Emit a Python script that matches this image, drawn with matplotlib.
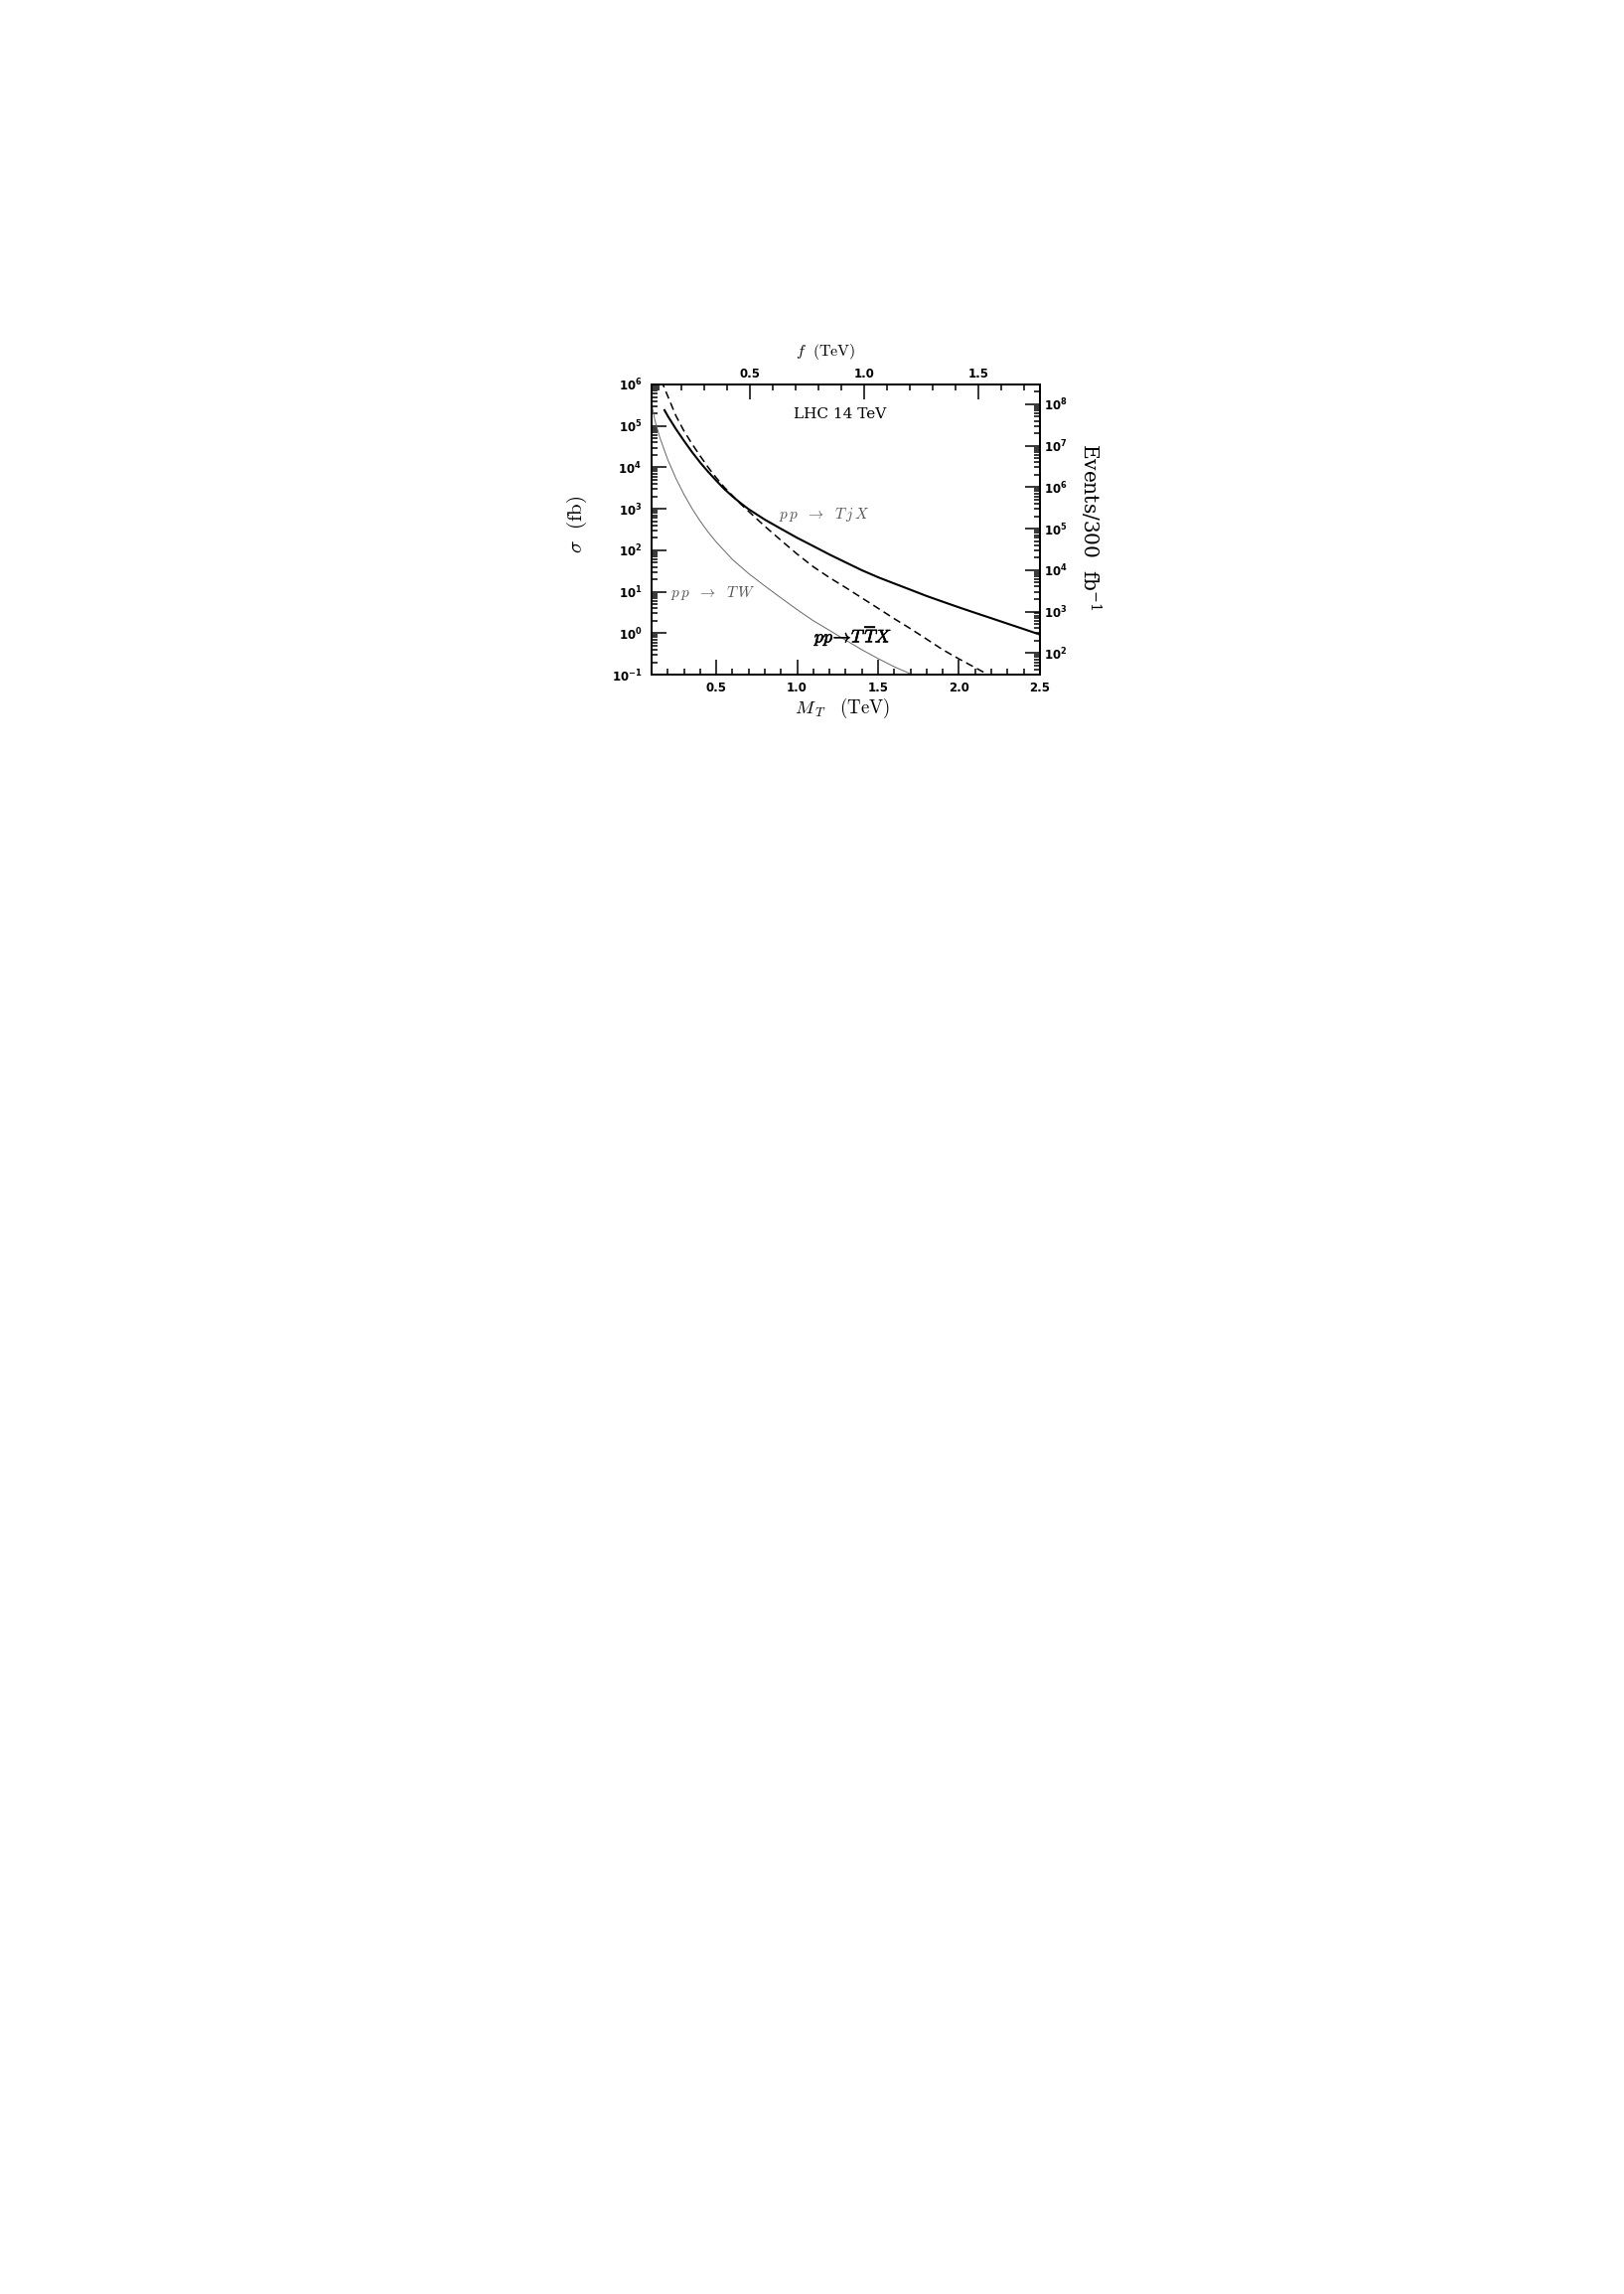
import numpy as np
import matplotlib
matplotlib.use("Agg")
import matplotlib.pyplot as plt
import matplotlib.patheffects as pe
from matplotlib.ticker import MultipleLocator, FixedLocator, LogLocator, FuncFormatter, NullFormatter

# pp -> TjX (solid): M_T in TeV, sigma in fb
mt_tjx = [0.18, 0.20, 0.25, 0.30, 0.35, 0.40, 0.45, 0.50, 0.55, 0.60, 0.65, 0.70,
          0.80, 0.90, 1.00, 1.10, 1.20, 1.30, 1.40, 1.50, 1.60, 1.70, 1.80, 1.90,
          2.00, 2.10, 2.20, 2.30, 2.40, 2.50]
sig_tjx = [2.4e5, 1.74e5, 8.5e4, 4.4e4, 2.35e4, 1.32e4, 7.8e3, 4.8e3, 3.0e3, 2.0e3, 1.38e3, 980,
           550, 330, 200, 126, 79, 51, 33, 22.4, 15.8, 11.2, 7.9, 5.75,
           4.2, 3.1, 2.3, 1.7, 1.26, 0.93]

# pp -> T Tbar X (dashed)
mt_ttx = [0.16, 0.20, 0.25, 0.30, 0.35, 0.40, 0.45, 0.50, 0.55, 0.60, 0.65, 0.70,
          0.80, 0.90, 1.00, 1.10, 1.20, 1.30, 1.40, 1.50, 1.60, 1.70, 1.80, 1.90,
          2.00, 2.10, 2.20]
sig_ttx = [1.26e6, 5.25e5, 1.78e5, 7.6e4, 3.7e4, 1.9e4, 1.0e4, 5.6e3, 3.3e3, 2.1e3, 1.32e3, 870,
           380, 174, 81, 40, 21.9, 12.6, 7.1, 4.0, 2.24, 1.29, 0.72, 0.40,
           0.24, 0.148, 0.091]

# pp -> TW (thin grey)
mt_tw = [0.105, 0.12, 0.15, 0.20, 0.25, 0.30, 0.35, 0.40, 0.45, 0.50, 0.60, 0.70,
         0.80, 0.90, 1.00, 1.10, 1.20, 1.30, 1.40, 1.50, 1.60, 1.70, 1.75]
sig_tw = [2.8e5, 1.4e5, 5.4e4, 1.55e4, 5.5e3, 2.24e3, 1.02e3, 510, 275, 158, 60, 27.5,
          13.8, 7.1, 3.7, 2.0, 1.17, 0.68, 0.40, 0.245, 0.155, 0.105, 0.087]

lumi = 300.0  # fb^-1

plt.rcParams["mathtext.fontset"] = "dejavusans"

fig = plt.figure(figsize=(16.35, 23.09), dpi=100)
ax = fig.add_axes([0.4012, 0.7059, 0.2391, 0.1265])

ax.plot(mt_tjx, sig_tjx, color="black", lw=1.5)
ax.plot(mt_ttx, sig_ttx, color="black", lw=1.1, ls=(0, (5, 3)))
ax.plot(mt_tw, sig_tw, color="#666666", lw=0.7)

ax.set_yscale("log")
ax.set_xlim(0.1, 2.5)
ax.set_ylim(0.1, 1e6)

def pow10(v, pos):
    return r"$\mathbf{10^{%d}}$" % int(round(np.log10(v)))

ax.xaxis.set_major_locator(FixedLocator([0.5, 1.0, 1.5, 2.0, 2.5]))
ax.xaxis.set_major_formatter(FuncFormatter(lambda v, p: "%.1f" % v))
ax.xaxis.set_minor_locator(MultipleLocator(0.1))
ax.yaxis.set_major_locator(LogLocator(base=10, numticks=20))
ax.yaxis.set_minor_locator(LogLocator(base=10, subs=np.arange(2, 10), numticks=20))
ax.yaxis.set_major_formatter(FuncFormatter(pow10))
ax.yaxis.set_minor_formatter(NullFormatter())

ax.tick_params(which="both", direction="in", top=False, right=False, width=1.1,
               labelsize=8.5)
ax.tick_params(which="major", length=10.5)
ax.tick_params(which="minor", length=4)
ax.tick_params(axis="x", pad=5)
ax.tick_params(axis="y", pad=7)
for lab in ax.get_xticklabels():
    lab.set_fontweight("bold")
for s in ax.spines.values():
    s.set_linewidth(1.4)

# top axis: f = M_T / sqrt(2)
secx = ax.secondary_xaxis("top", functions=(lambda m: m / np.sqrt(2), lambda f: f * np.sqrt(2)))
secx.xaxis.set_major_locator(FixedLocator([0.5, 1.0, 1.5]))
secx.xaxis.set_major_formatter(FuncFormatter(lambda v, p: "%.1f" % v))
secx.xaxis.set_minor_locator(MultipleLocator(0.1))
secx.tick_params(which="both", direction="in", width=1.1, labelsize=8.5, pad=3)
secx.tick_params(which="major", length=10.5)
secx.tick_params(which="minor", length=4)
for lab in secx.get_xticklabels():
    lab.set_fontweight("bold")
secx.spines["top"].set_linewidth(1.4)

# right axis: events for 300 fb^-1
secy = ax.secondary_yaxis("right", functions=(lambda s: s * lumi, lambda e: e / lumi))
secy.yaxis.set_major_locator(LogLocator(base=10, numticks=20))
secy.yaxis.set_minor_locator(LogLocator(base=10, subs=np.arange(2, 10), numticks=20))
secy.yaxis.set_major_formatter(FuncFormatter(pow10))
secy.yaxis.set_minor_formatter(NullFormatter())
secy.tick_params(which="both", direction="in", width=1.1, labelsize=8.5, pad=3)
secy.tick_params(which="major", length=10.5)
secy.tick_params(which="minor", length=4)
secy.spines["right"].set_linewidth(1.4)

# axis titles
ax.set_xlabel(r"$M_{\,T}\ \ \ (\mathrm{TeV})$", fontsize=13.5, math_fontfamily="cm", va="center")
ax.xaxis.set_label_coords(0.491, -0.116)
ax.set_ylabel(r"$\sigma\ \ (\mathrm{fb})$", fontsize=15, math_fontfamily="cm", va="center")
ax.yaxis.set_label_coords(-0.192, 0.517)
ax.text(0.448, 1.113, r"$f\ \ (\mathrm{TeV})$", transform=ax.transAxes, fontsize=11.5,
        math_fontfamily="cm", ha="center", va="center")
ax.text(1.13, 0.51, "Events/300  fb$^{-1}$", transform=ax.transAxes, fontsize=14.5,
        family="DejaVu Serif", math_fontfamily="dejavuserif", rotation=270,
        ha="center", va="center")

# annotations
ax.text(1.262, 10**5.27, "LHC 14 TeV", ha="center", va="center",
        family="DejaVu Serif", fontsize=11)
ax.text(0.888, 10**2.85, r"$p\,p\ \ \rightarrow\ \ T\,j\,X$", color="#555555", fontsize=11,
        math_fontfamily="cm", va="center")
ax.text(0.217, 10**0.97, r"$p\,p\ \ \rightarrow\ \ T\,W$", color="#555555", fontsize=11,
        math_fontfamily="cm", va="center")
ax.text(1.106, 10**-0.07, r"$pp\!\rightarrow\!T\,\overline{T}X$", color="black", fontsize=13,
        math_fontfamily="cm", va="center",
        path_effects=[pe.withStroke(linewidth=0.5, foreground="black")])

fig.savefig("out.png", dpi=100)
